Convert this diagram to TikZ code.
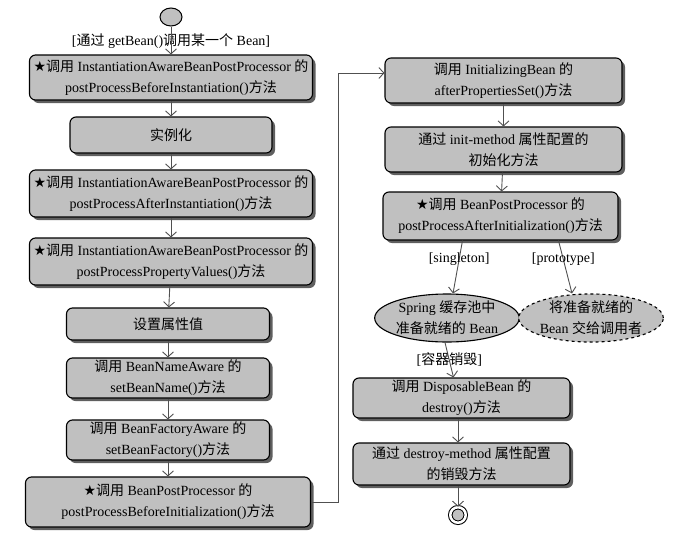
\documentclass[tikz,border=0pt]{standalone}
\usepackage{fontspec}
\setmainfont{Liberation Serif}
\newfontfamily\cjk{Noto Sans CJK SC}
\newfontfamily\starfont{DejaVu Sans}
\newcommand{\zh}[1]{{\cjk #1}}
\newcommand{\bstar}{{\starfont ★}}
\usetikzlibrary{arrows.meta, shapes.geometric, shadows}
\definecolor{boxgray}{RGB}{192,192,192}
\definecolor{shadowgray}{RGB}{95,95,95}
\definecolor{linegray}{RGB}{80,80,80}

\begin{document}
\begin{tikzpicture}[
        x=1pt, y=-1pt,
        every node/.style={font=\fontsize{14}{21}\selectfont},
        stage/.style={rectangle, draw=black, line width=1.1pt, fill=boxgray, align=center, inner sep=2pt, rounded corners=6pt,
            drop shadow={shadow xshift=3pt, shadow yshift=-3pt, fill=shadowgray, opacity=1}},
        state/.style={ellipse, draw=black, line width=1.1pt, fill=boxgray, align=center, inner sep=0pt},
        startnode/.style={ellipse, draw=black, line width=1pt, fill=boxgray, minimum width=22pt, minimum height=18pt, inner sep=0pt},
        endnode/.style={circle, draw=black, line width=1pt, double=white, double distance=2.5pt, fill=boxgray, minimum size=15.5pt, inner sep=0pt},
        arrow/.style={-{Straight Barb[length=5pt, width=11pt]}, line width=0.9pt, draw=linegray}
        ]
        \useasboundingbox (0,0) rectangle (681,539);

        % Left column: instantiation and property setting
        \node[startnode] (start) at (171,17) {};
        \node (getlabel) at (171,41) {[\zh{通过} getBean()\zh{调用某一个} Bean]};
        \node[stage, minimum width=283pt, minimum height=45pt] (b1) at (171,77.5)
            {\bstar\zh{调用} InstantiationAwareBeanPostProcessor \zh{的}\\postProcessBeforeInstantiation()\zh{方法}};
        \node[stage, minimum width=202pt, minimum height=36pt] (b2) at (171,135) {\zh{实例化}};
        \node[stage, minimum width=283pt, minimum height=47pt] (b3) at (171,193.5)
            {\bstar\zh{调用} InstantiationAwareBeanPostProcessor \zh{的}\\postProcessAfterInstantiation()\zh{方法}};
        \node[stage, minimum width=283pt, minimum height=47pt] (b4) at (171,261.5)
            {\bstar\zh{调用} InstantiationAwareBeanPostProcessor \zh{的}\\postProcessPropertyValues()\zh{方法}};
        \node[stage, minimum width=203pt, minimum height=32pt] (b5) at (168,324) {\zh{设置属性值}};
        \node[stage, minimum width=203pt, minimum height=40pt] (b6) at (168,378)
            {\zh{调用} BeanNameAware \zh{的}\\setBeanName()\zh{方法}};
        \node[stage, minimum width=203pt, minimum height=40pt] (b7) at (168,440)
            {\zh{调用} BeanFactoryAware \zh{的}\\setBeanFactory()\zh{方法}};
        \node[stage, minimum width=285pt, minimum height=50pt] (b8) at (168,502)
            {\bstar\zh{调用} BeanPostProcessor \zh{的}\\postProcessBeforeInitialization()\zh{方法}};

        % Right column: initialization, use and destruction
        \node[stage, minimum width=237pt, minimum height=45pt] (b9) at (503.5,80.5)
            {\zh{调用} InitializingBean \zh{的}\\afterPropertiesSet()\zh{方法}};
        \node[stage, minimum width=237pt, minimum height=45pt] (b10) at (503.5,149.5)
            {\zh{通过} init-method \zh{属性配置的}\\\zh{初始化方法}};
        \node[stage, minimum width=235pt, minimum height=48pt] (b11) at (500.5,216)
            {\bstar\zh{调用} BeanPostProcessor \zh{的}\\postProcessAfterInitialization()\zh{方法}};
        \node[state, minimum width=135pt, minimum height=48pt] (pool) at (447,318)
            {Spring \zh{缓存池中}\\\zh{准备就绪的} Bean};
        \node[state, dashed, minimum width=137pt, minimum height=48pt] (caller) at (591,318)
            {\zh{将准备就绪的}\\Bean \zh{交给调用者}};
        \node[stage, minimum width=217pt, minimum height=40pt] (b12) at (461.5,398)
            {\zh{调用} DisposableBean \zh{的}\\destroy()\zh{方法}};
        \node[stage, minimum width=217pt, minimum height=42pt] (b13) at (461.5,464)
            {\zh{通过} destroy-method \zh{属性配置}\\\zh{的销毁方法}};
        \node[endnode] (finish) at (458,515) {};

        \coordinate (loop) at (338,73);

        % Connections
        \draw[arrow] (start) -- (b1);
        \draw[arrow] (b1) -- (b2);
        \draw[arrow] (b2) -- (b3);
        \draw[arrow] (b3) -- (b4);
        \draw[arrow] (b4) -- (b5);
        \draw[arrow] (b5) -- (b6);
        \draw[arrow] (b6) -- (b7);
        \draw[arrow] (b7) -- (b8);
        \draw[arrow] (b8.east) -| (loop) -- (b9.west |- loop);
        \draw[arrow] (b9) -- (b10);
        \draw[arrow] (b10) -- (b11);
        \draw[arrow] ([xshift=-38pt]b11.south) -- node[pos=0.36] {[singleton]} ([xshift=6pt]pool.north);
        \draw[arrow] ([xshift=58pt]b11.south) -- node[pos=0.36] {[prototype]} ([xshift=-19pt]caller.north);
        \draw[arrow] ([xshift=-2pt]pool.south) -- node[pos=0.5] {[\zh{容器销毁}]} ([xshift=-8pt]b12.north);
        \draw[arrow] ([xshift=-3.5pt]b12.south) -- ([xshift=-3.5pt]b13.north);
        \draw[arrow] ([xshift=-3.5pt]b13.south) -- (finish);

    \end{tikzpicture}
\end{document}
